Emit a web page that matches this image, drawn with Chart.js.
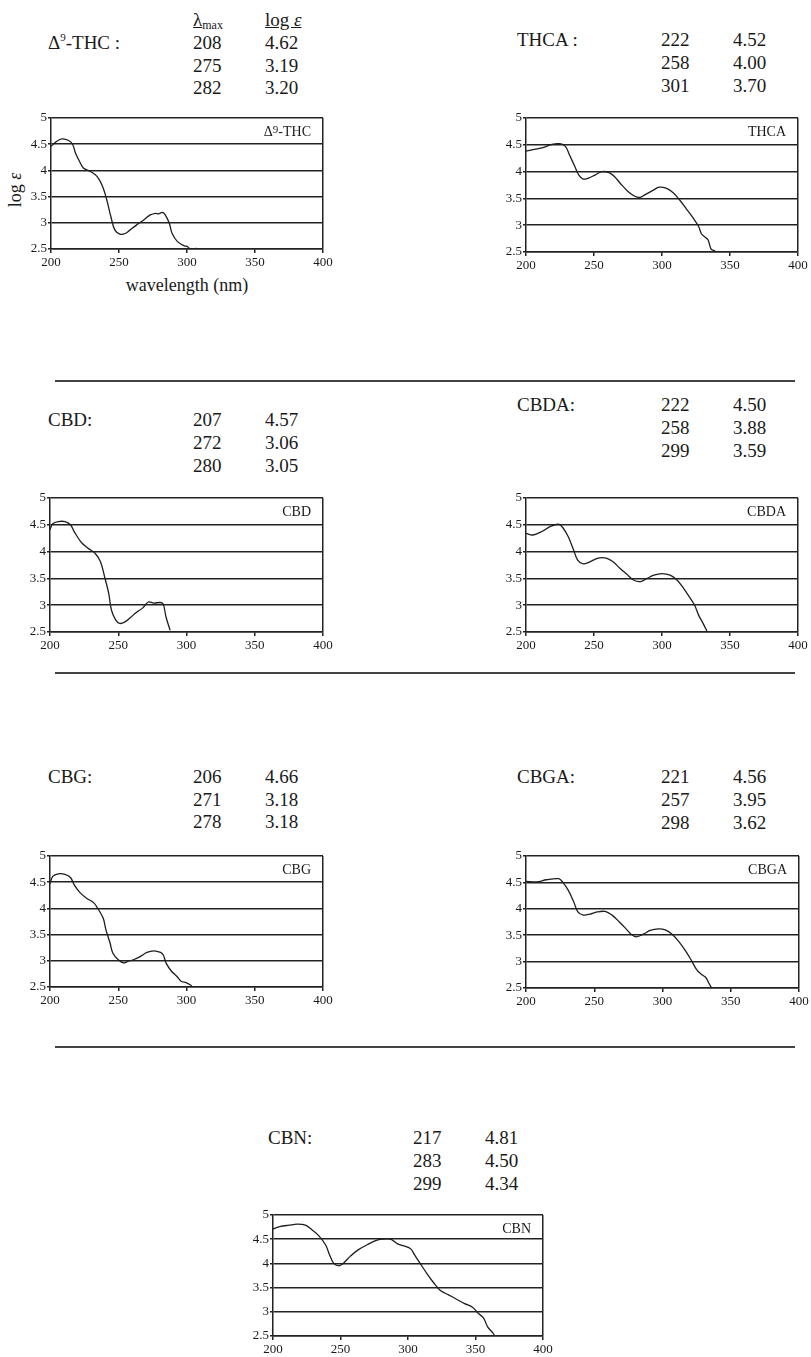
<!DOCTYPE html>
<html>
<head>
<meta charset="utf-8">
<script src="https://cdn.jsdelivr.net/npm/chart.js@4.4.1/dist/chart.umd.min.js"></script>
<style>
body{margin:0;background:#fff;width:811px;height:1357px;position:relative;overflow:hidden;font-family:'Liberation Serif','Times New Roman',serif;color:#1a1a1a}
.t{position:absolute;font-family:'Liberation Serif','Times New Roman',serif;font-size:19px;line-height:19px;white-space:nowrap}
.lab{position:absolute;font-family:'Liberation Serif','Times New Roman',serif;font-size:14px;line-height:14px;white-space:nowrap}
.box{position:absolute}
.rule{position:absolute;left:55px;width:740px;height:2px;background:#444}
sup{font-size:11px;vertical-align:top;line-height:8px}
sub{font-size:12px;vertical-align:baseline;position:relative;top:3px}
</style>
</head>
<body>
<div class="rule" style="top:380px"></div>
<div class="rule" style="top:672px"></div>
<div class="rule" style="top:1046px"></div>
<script>
// UV spectra, wavelength (nm) vs log e
var thcWl  = [200,204,208,213,216,218,221,224,229,234,238,241,244,247,251,255,258,263,268,273,277,279,282,284,287,289,293,298,300,302,307];
var thcLog = [4.46,4.55,4.60,4.57,4.49,4.33,4.17,4.04,3.98,3.88,3.69,3.44,3.12,2.86,2.78,2.80,2.86,2.96,3.05,3.15,3.18,3.17,3.20,3.15,2.99,2.80,2.64,2.56,2.55,2.51,2.51];

var thcaWl  = [200,205,213,219,225,229,232,236,239,242,246,251,256,261,265,270,275,280,284,287,294,298,303,308,313,318,323,327,329,332,334,336,339];
var thcaLog = [4.38,4.41,4.45,4.51,4.52,4.47,4.31,4.09,3.93,3.86,3.88,3.94,4.00,3.98,3.91,3.76,3.63,3.54,3.52,3.56,3.66,3.71,3.69,3.61,3.47,3.30,3.13,2.97,2.84,2.77,2.72,2.56,2.52];

var cbdWl  = [200,202,206,211,215,218,223,228,233,237,240,243,245,248,251,255,259,263,268,272,276,281,283,285,288];
var cbdLog = [4.41,4.52,4.56,4.56,4.50,4.36,4.17,4.06,3.97,3.81,3.53,3.22,2.91,2.73,2.66,2.69,2.77,2.86,2.95,3.06,3.04,3.05,3.02,2.78,2.53];

var cbdaWl  = [200,205,212,218,224,227,231,235,238,242,247,253,259,264,269,274,279,284,289,294,300,306,311,316,320,324,327,330,333];
var cbdaLog = [4.34,4.31,4.38,4.47,4.51,4.45,4.28,4.03,3.84,3.77,3.81,3.88,3.88,3.81,3.69,3.58,3.47,3.44,3.50,3.56,3.59,3.56,3.47,3.31,3.16,3.00,2.81,2.67,2.52];

var cbgWl  = [200,202,206,211,215,218,222,227,232,235,239,241,244,246,250,254,257,261,266,271,276,281,283,285,289,293,296,300,304];
var cbgLog = [4.47,4.61,4.66,4.65,4.59,4.44,4.30,4.19,4.11,4.00,3.81,3.59,3.34,3.15,3.02,2.96,2.99,3.02,3.08,3.16,3.19,3.16,3.11,2.96,2.80,2.70,2.61,2.58,2.52];

var cbgaWl  = [200,208,215,224,227,231,235,238,242,247,252,258,263,268,273,277,281,286,291,297,302,307,312,317,321,325,329,332,334,336];
var cbgaLog = [4.52,4.51,4.55,4.57,4.50,4.35,4.13,3.94,3.88,3.90,3.94,3.95,3.88,3.76,3.63,3.52,3.47,3.52,3.59,3.62,3.60,3.52,3.38,3.20,3.03,2.85,2.75,2.69,2.59,2.50];

var cbnWl  = [200,205,212,218,224,229,234,239,242,245,249,252,257,263,270,276,281,287,292,297,302,305,309,314,319,324,330,336,342,348,352,356,359,363,364];
var cbnLog = [4.71,4.76,4.79,4.81,4.79,4.69,4.57,4.38,4.17,4.00,3.95,4.00,4.14,4.28,4.39,4.47,4.50,4.50,4.41,4.36,4.30,4.17,4.00,3.79,3.60,3.44,3.35,3.26,3.17,3.09,2.97,2.87,2.69,2.56,2.51];

// lambda max / log e tables
var thcMax  = [208, 275, 282]; var thcEps  = ['4.62','3.19','3.20'];
var thcaMax = [222, 258, 301]; var thcaEps = ['4.52','4.00','3.70'];
var cbdMax  = [207, 272, 280]; var cbdEps  = ['4.57','3.06','3.05'];
var cbdaMax = [222, 258, 299]; var cbdaEps = ['4.50','3.88','3.59'];
var cbgMax  = [206, 271, 278]; var cbgEps  = ['4.66','3.18','3.18'];
var cbgaMax = [221, 257, 298]; var cbgaEps = ['4.56','3.95','3.62'];
var cbnMax  = [217, 283, 299]; var cbnEps  = ['4.81','4.50','4.34'];

var xTicks = [200, 250, 300, 350, 400];
var yTicks = [2.5, 3, 3.5, 4, 4.5, 5];

var panels = [
  {wl: thcWl,  lg: thcLog,  mx: thcMax,  ep: thcEps,  name: '&Delta;<sup>9</sup>-THC :', tag: '&Delta;<sup>9</sup>-THC',
   plot: {l: 51, t: 118, r: 323, b: 249}, head: {x: 48, y: 43, c1: 193, c2: 265, dy: 22.5}},
  {wl: thcaWl, lg: thcaLog, mx: thcaMax, ep: thcaEps, name: 'THCA :', tag: 'THCA',
   plot: {l: 526, t: 118, r: 798, b: 252}, head: {x: 517, y: 40, c1: 661, c2: 733, dy: 23}},
  {wl: cbdWl,  lg: cbdLog,  mx: cbdMax,  ep: cbdEps,  name: 'CBD:', tag: 'CBD',
   plot: {l: 50, t: 498, r: 323, b: 632}, head: {x: 48, y: 420, c1: 193, c2: 265, dy: 23}},
  {wl: cbdaWl, lg: cbdaLog, mx: cbdaMax, ep: cbdaEps, name: 'CBDA:', tag: 'CBDA',
   plot: {l: 526, t: 498, r: 798, b: 632}, head: {x: 517, y: 405, c1: 661, c2: 733, dy: 23}},
  {wl: cbgWl,  lg: cbgLog,  mx: cbgMax,  ep: cbgEps,  name: 'CBG:', tag: 'CBG',
   plot: {l: 50, t: 856, r: 323, b: 987}, head: {x: 48, y: 777, c1: 193, c2: 265, dy: 22.5}},
  {wl: cbgaWl, lg: cbgaLog, mx: cbgaMax, ep: cbgaEps, name: 'CBGA:', tag: 'CBGA',
   plot: {l: 526, t: 856, r: 799, b: 988}, head: {x: 517, y: 777, c1: 661, c2: 733, dy: 23}},
  {wl: cbnWl,  lg: cbnLog,  mx: cbnMax,  ep: cbnEps,  name: 'CBN:', tag: 'CBN',
   plot: {l: 273, t: 1215, r: 543, b: 1336}, head: {x: 268, y: 1138, c1: 413, c2: 485, dy: 23}}
];

Chart.defaults.font.family = "'Liberation Serif', 'Times New Roman', serif";
Chart.defaults.font.size = 13;
Chart.defaults.color = '#1a1a1a';

function addText(cls, html, x, y, extra) {
  var d = document.createElement('div');
  d.className = cls;
  d.innerHTML = html;
  d.style.left = x + 'px';
  d.style.top = y + 'px';
  if (extra) d.setAttribute('style', d.getAttribute('style') + ';' + extra);
  document.body.appendChild(d);
  return d;
}

// column headings + axis titles, only on the first panel
addText('t', '<span style="text-decoration:underline">&lambda;<sub>max</sub></span>', 193, 10);
addText('t', '<span style="text-decoration:underline">log <i>&epsilon;</i></span>', 265, 10);
addText('t', 'log <i>&epsilon;</i>', 15, 190, 'font-size:18px;transform:translate(-50%,-50%) rotate(-90deg)');
addText('t', 'wavelength (nm)', 187, 285, 'font-size:18px;transform:translate(-50%,-50%)');

panels.forEach(function (p) {
  var h = p.head;
  addText('t', p.name, h.x, h.y - 10);
  for (var i = 0; i < p.mx.length; i++) {
    addText('t', String(p.mx[i]), h.c1, h.y + i * h.dy - 10);
    addText('t', p.ep[i], h.c2, h.y + i * h.dy - 10);
  }

  var pl = p.plot;
  var padL = 40, padT = 12, padR = 20, padB = 26;
  var box = document.createElement('div');
  box.className = 'box';
  var w = pl.r - pl.l + padL + padR, hh = pl.b - pl.t + padT + padB;
  box.style.left = (pl.l - padL) + 'px';
  box.style.top = (pl.t - padT) + 'px';
  box.style.width = w + 'px';
  box.style.height = hh + 'px';
  var cv = document.createElement('canvas');
  box.appendChild(cv);
  document.body.appendChild(box);

  addText('lab', p.tag, pl.r - 12, pl.t + 14, 'transform:translate(-100%,-50%)');

  new Chart(cv, {
    type: 'line',
    data: {
      datasets: [{
        data: p.wl.map(function (x, i) { return {x: x, y: p.lg[i]}; }),
        borderColor: '#1e1e1e',
        borderWidth: 1.3,
        pointRadius: 0,
        tension: 0.35,
        fill: false
      }]
    },
    options: {
      responsive: true,
      maintainAspectRatio: false,
      animation: false,
      events: [],
      layout: {padding: {left: 0, top: padT, right: padR, bottom: 0}},
      plugins: {legend: {display: false}, tooltip: {enabled: false}},
      scales: {
        x: {
          type: 'linear', min: 200, max: 400,
          afterBuildTicks: function (s) { s.ticks = xTicks.map(function (v) { return {value: v}; }); },
          afterFit: function (s) { s.height = padB; },
          ticks: {padding: 2, maxRotation: 0, color: '#1a1a1a'},
          grid: {
            color: function (c) { return c.tick && c.tick.value === 400 ? '#222' : 'rgba(0,0,0,0)'; },
            tickColor: '#222', tickLength: 4, lineWidth: 1.5
          },
          border: {display: true, color: '#222', width: 1.5}
        },
        y: {
          type: 'linear', min: 2.5, max: 5,
          afterBuildTicks: function (s) { s.ticks = yTicks.map(function (v) { return {value: v}; }); },
          afterFit: function (s) { s.width = padL; },
          ticks: {padding: 1, color: '#1a1a1a', callback: function (v) { return String(v); }},
          grid: {color: '#222', tickColor: '#222', tickLength: 3, lineWidth: 1.5},
          border: {display: true, color: '#222', width: 1.5}
        }
      }
    }
  });
});
</script>
</body>
</html>
